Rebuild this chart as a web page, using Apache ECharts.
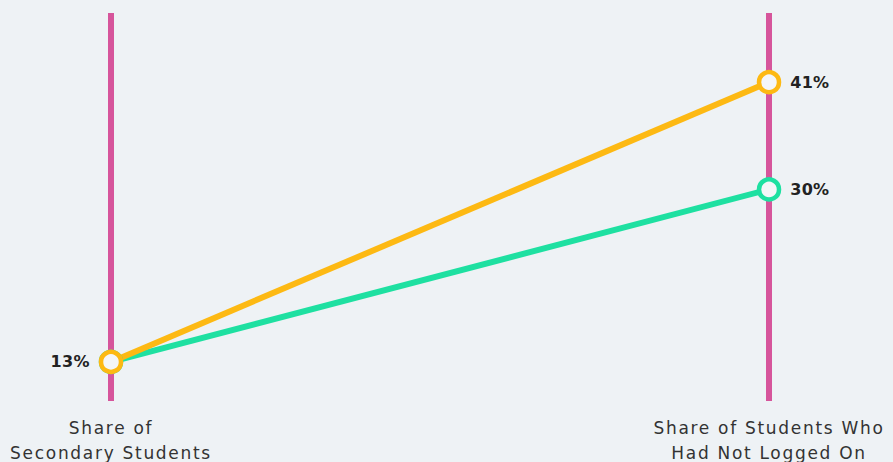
<!DOCTYPE html>
<html><head><meta charset="utf-8">
<script src="https://cdn.jsdelivr.net/npm/echarts@6/dist/echarts.min.js"></script>
<style>html,body{margin:0;padding:0;background:#eef2f5;}#c{width:893px;height:462px;}
#c svg text{letter-spacing:1.7px;}
#c svg text[style*="bold"]{letter-spacing:0.3px;}</style>
</head><body><div id="c"></div>
<script>
var categories = ['Share of\nSecondary Students', 'Share of Students Who\nHad Not Logged On'];
var seriesNames = ['Green', 'Yellow'];
var greenValues = [13.2, 30.4];
var yellowValues = [13.2, 41.1];
var colors = ['#1ee0a1', '#fdb913'];

var chart = echarts.init(document.getElementById('c'), null, {renderer: 'svg'});
function mkSeries(name, vals, color, showLeft) {
  return {
    name: name, type: 'line', data: vals.map(function(v, i){
      return {value: v, label: {show: i === 1 || showLeft, position: i === 0 ? 'left' : 'right'}};
    }),
    symbol: 'circle', symbolSize: 20,
    itemStyle: {color: '#f4f6f8', borderColor: color, borderWidth: 4.5},
    lineStyle: {color: color, width: 6},
    label: {formatter: function(p){ return Math.round(p.value) + '%'; }, fontFamily: 'DejaVu Sans', fontWeight: 'bold', fontSize: 16, color: '#222', distance: 9},
    z: 3
  };
}
chart.setOption({
  backgroundColor: '#eef2f5',
  animation: false,
  grid: {left: 111, right: 124, top: 13, bottom: 61, outerBoundsMode: 'none', containLabel: false},
  xAxis: {
    type: 'category', data: categories, boundaryGap: false,
    axisLine: {show: false}, axisTick: {show: false},
    axisLabel: {fontFamily: 'DejaVu Sans', fontSize: 17, color: '#333', lineHeight: 25, margin: 14},
    splitLine: {show: true, interval: 0, lineStyle: {color: '#d6559b', width: 6}}
  },
  yAxis: {type: 'value', min: 9.3, max: 48, show: false, splitLine: {show: false}},
  series: [mkSeries(seriesNames[0], greenValues, colors[0], false), mkSeries(seriesNames[1], yellowValues, colors[1], true)]
});
</script></body></html>
